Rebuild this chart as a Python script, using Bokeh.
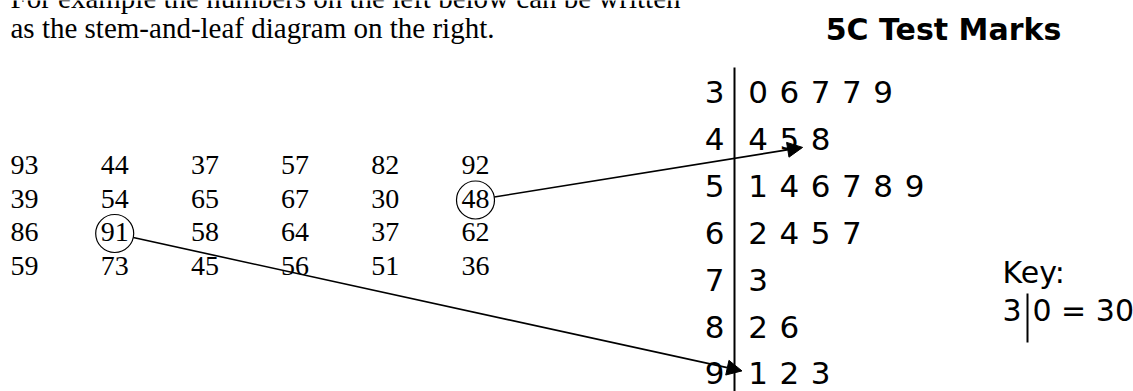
from bokeh.plotting import figure
from bokeh.models import Range1d, Arrow, NormalHead
from bokeh.core.properties import value
from bokeh.embed import file_html
from bokeh.resources import INLINE

# ---------------- data ----------------
intro_lines = ["For example the numbers on the left below can be written",
               "as the stem-and-leaf diagram on the right."]
marks_row1 = [93, 44, 37, 57, 82, 92]
marks_row2 = [39, 54, 65, 67, 30, 48]
marks_row3 = [86, 91, 58, 64, 37, 62]
marks_row4 = [59, 73, 45, 56, 51, 36]
marks_rows = [marks_row1, marks_row2, marks_row3, marks_row4]
stems = [3, 4, 5, 6, 7, 8, 9]
title = "5C Test Marks"
key_label = "Key:"
key_stem, key_leaf, key_value = "3", "0", "30"
highlighted = [(1, 5), (2, 1)]   # (row, col) of circled marks -> 48, 91

# leaves derived from the marks
all_marks = [m for row in marks_rows for m in row]
leaves = {s: sorted(m % 10 for m in all_marks if m // 10 == s) for s in stems}

# ---------------- layout (pixel coordinates) ----------------
W, H = 1133, 391
p = figure(width=W, height=H, x_range=Range1d(0, W), y_range=Range1d(H, 0),
           output_backend="svg", toolbar_location=None, min_border=0)
p.axis.visible = False
p.grid.visible = False
p.outline_line_color = None
p.background_fill_color = "white"
p.border_fill_color = "white"

serif = value("Liberation Serif")
sans = value("DejaVu Sans")
TFIX = -10.5   # compensates the baseline placement of svg text

# intro text
p.text(x=[10, 10], y=[8 + TFIX, 38 + TFIX], text=intro_lines, text_font=serif,
       text_font_size="29px", text_baseline="alphabetic", text_color="black")

# grid of marks
col_x0, col_dx = 10, 90.2
row_y0, row_dy = 175, 33.5
gx, gy, gt = [], [], []
for r, row in enumerate(marks_rows):
    for c, m in enumerate(row):
        gx.append(col_x0 + c * col_dx)
        gy.append(row_y0 + r * row_dy + TFIX)
        gt.append(str(m))
p.text(x=gx, y=gy, text=gt, text_font=serif, text_font_size="28px",
       text_baseline="alphabetic", text_color="black")

# circles round highlighted marks
cx = [col_x0 + c * col_dx + 14 for r, c in highlighted]
cy = [row_y0 + r * row_dy - 9 for r, c in highlighted]
p.circle(x=cx, y=cy, radius=19, radius_units="screen", fill_color=None,
         line_color="black", line_width=1.2)

# title
p.text(x=[943], y=[39 + TFIX], text=[title], text_font=sans, text_font_style="bold",
       text_font_size="30px", text_align="center", text_baseline="alphabetic",
       text_color="black")

# stem and leaf
stem_x = 714
stem_y0, stem_dy = 102, 46.9
leaf_x0, leaf_dx = 757.5, 31.3
p.text(x=[stem_x] * len(stems),
       y=[stem_y0 + i * stem_dy + TFIX for i in range(len(stems))],
       text=[str(s) for s in stems], text_font=sans, text_font_size="31px",
       text_align="center", text_baseline="alphabetic", text_color="black")
lx, ly, lt = [], [], []
for i, s in enumerate(stems):
    for j, lf in enumerate(leaves[s]):
        lx.append(leaf_x0 + j * leaf_dx)
        ly.append(stem_y0 + i * stem_dy + TFIX)
        lt.append(str(lf))
p.text(x=lx, y=ly, text=lt, text_font=sans, text_font_size="31px",
       text_align="center", text_baseline="alphabetic", text_color="black")
p.line(x=[734, 734], y=[67, H], line_color="black", line_width=2)

# arrows from circled marks to their leaves
targets = []
for (r, c) in highlighted:
    m = marks_rows[r][c]
    si = stems.index(m // 10)
    li = leaves[m // 10].index(m % 10)
    targets.append((si, li))
tip_adjust = [(-8, -2), (-6, -13)]
for k, ((si, li), (ax, ay)) in enumerate(zip(targets, tip_adjust)):
    tx = leaf_x0 + li * leaf_dx - 10 + ax
    ty = stem_y0 + si * stem_dy + ay
    sx, sy = cx[k], cy[k]
    dx, dy = tx - sx, ty - sy
    d = (dx * dx + dy * dy) ** 0.5
    sx, sy = sx + dx / d * 19, sy + dy / d * 19
    p.add_layout(Arrow(end=NormalHead(size=15, fill_color="black", line_color="black"),
                       x_start=sx, y_start=sy, x_end=tx, y_end=ty,
                       line_color="black", line_width=1.6))

# key
p.text(x=[1002], y=[282 + TFIX], text=[key_label], text_font=sans, text_font_size="30px",
       text_baseline="alphabetic", text_color="black")
p.text(x=[1002], y=[320 + TFIX], text=[key_stem], text_font=sans, text_font_size="30px",
       text_baseline="alphabetic", text_color="black")
p.line(x=[1027, 1027], y=[293, 342], line_color="black", line_width=2)
p.text(x=[1032], y=[320 + TFIX], text=[key_leaf + " = " + key_value], text_font=sans,
       text_font_size="30px", text_baseline="alphabetic", text_color="black")

open("out.html", "w").write(file_html(p, INLINE))
